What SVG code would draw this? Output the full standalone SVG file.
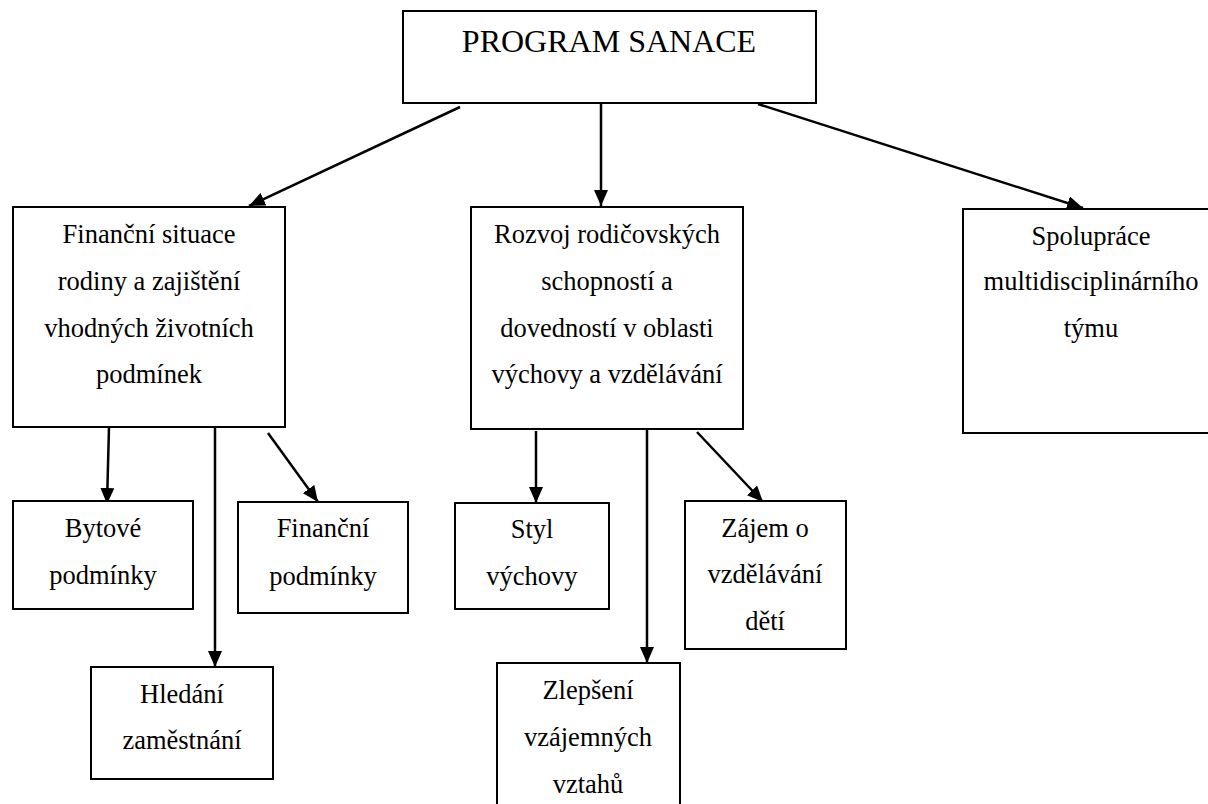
<svg xmlns="http://www.w3.org/2000/svg" width="1208" height="804" viewBox="0 0 1208 804">
<style>
.box{fill:#fff;stroke:#000;stroke-width:2}
.t{font-family:"Liberation Serif","Times New Roman",serif;font-size:26.5px;fill:#000;text-anchor:middle}
.title{font-size:32px}
.c{stroke:#000;stroke-width:2.5;fill:none;marker-end:url(#ah)}
</style>
<defs>
<marker id="ah" viewBox="0 0 16 14" refX="16" refY="7" markerWidth="16" markerHeight="14" markerUnits="userSpaceOnUse" orient="auto">
<path d="M0,0 L16,7 L0,14 Z" fill="#000"/>
</marker>
</defs>
<rect width="1208" height="804" fill="#fff"/>
<g id="connectors">
<line class="c" x1="460" y1="107" x2="249" y2="206"/>
<line class="c" x1="601" y1="103" x2="601" y2="206"/>
<line class="c" x1="758" y1="104" x2="1083" y2="208"/>
<line class="c" x1="109" y1="427" x2="107" y2="504"/>
<line class="c" x1="215" y1="427" x2="215" y2="667"/>
<line class="c" x1="268" y1="433" x2="318" y2="502"/>
<line class="c" x1="536" y1="431" x2="536" y2="503"/>
<line class="c" x1="647" y1="429" x2="647" y2="663"/>
<line class="c" x1="697" y1="432" x2="763" y2="502"/>
</g>
<g id="n-program">
<rect class="box" x="403" y="11" width="413" height="92"/>
<text class="t title" x="609" y="52">PROGRAM SANACE</text>
</g>
<g id="n-financni-situace">
<rect class="box" x="13" y="207" width="272" height="220"/>
<text class="t" x="149" y="243">Finanční situace</text>
<text class="t" x="149" y="290">rodiny a zajištění</text>
<text class="t" x="149" y="337">vhodných životních</text>
<text class="t" x="149" y="383">podmínek</text>
</g>
<g id="n-rozvoj">
<rect class="box" x="471" y="207" width="272" height="222"/>
<text class="t" x="607" y="243">Rozvoj rodičovských</text>
<text class="t" x="607" y="290">schopností a</text>
<text class="t" x="607" y="337">dovedností v oblasti</text>
<text class="t" x="607" y="383">výchovy a vzdělávání</text>
</g>
<g id="n-spoluprace">
<rect class="box" x="963" y="209" width="256" height="224"/>
<text class="t" x="1091" y="245">Spolupráce</text>
<text class="t" x="1091" y="290">multidisciplinárního</text>
<text class="t" x="1091" y="337">týmu</text>
</g>
<g id="n-bytove">
<rect class="box" x="13" y="501" width="180" height="108"/>
<text class="t" x="103" y="537">Bytové</text>
<text class="t" x="103" y="584">podmínky</text>
</g>
<g id="n-financni-podminky">
<rect class="box" x="238" y="502" width="170" height="111"/>
<text class="t" x="323" y="537">Finanční</text>
<text class="t" x="323" y="585">podmínky</text>
</g>
<g id="n-hledani">
<rect class="box" x="91" y="667" width="182" height="112"/>
<text class="t" x="182" y="703">Hledání</text>
<text class="t" x="182" y="749">zaměstnání</text>
</g>
<g id="n-styl">
<rect class="box" x="455" y="503" width="154" height="106"/>
<text class="t" x="532" y="538">Styl</text>
<text class="t" x="532" y="585">výchovy</text>
</g>
<g id="n-zajem">
<rect class="box" x="685" y="501" width="161" height="148"/>
<text class="t" x="765" y="537">Zájem o</text>
<text class="t" x="765" y="583">vzdělávání</text>
<text class="t" x="765" y="630">dětí</text>
</g>
<g id="n-zlepseni">
<rect class="box" x="497" y="663" width="183" height="150"/>
<text class="t" x="588" y="699">Zlepšení</text>
<text class="t" x="588" y="746">vzájemných</text>
<text class="t" x="588" y="793">vztahů</text>
</g>
</svg>
